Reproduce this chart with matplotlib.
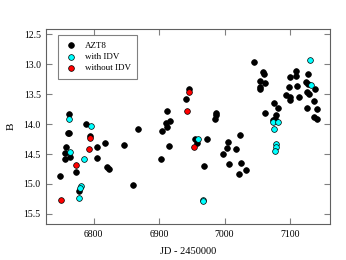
import matplotlib
matplotlib.use("Agg")
import matplotlib.pyplot as plt

# AZT8 (black)
azt8_jd = [6762.4, 6787.8, 6762.4, 6760.3, 6794.5, 6816.8, 6845.8, 6757.3, 6805.6, 6756.3,
           6764.4, 6755.7, 6804.6, 6820.9, 6823.5, 6773.6, 6749.2, 6860.6, 6777.1,
           6945.0, 6941.0, 6911.5, 6987.3, 6986.3, 6984.7, 6916.6, 6910.5, 6912.5, 6904.4,
           6868.2, 6954.2, 6973.1, 6957.9, 6915.6, 7005.6, 7004.1, 6997.6, 6902.3, 6967.9,
           7006.7, 7016.8, 7024.0, 7025.0, 7021.4, 7032.0,
           7045.3, 7059.0, 7059.5, 7054.5, 7061.7, 7054.5, 7053.4, 7108.4, 7100.3, 7108.4,
           7127.3, 7097.7, 7111.0, 7124.3, 7127.3, 7126.3, 7128.4, 7138.0, 7094.2, 7099.2,
           7099.2, 7114.0, 7136.7, 7125.2, 7141.0, 7136.7, 7140.5, 7075.9, 7082.0, 7061.7,
           7078.5, 7077.0, 7073.3]
azt8_b = [13.83, 14.005, 14.145, 14.155, 14.20, 14.32, 14.35, 14.38, 14.38, 14.48,
          14.545, 14.59, 14.57, 14.72, 14.755, 14.795, 14.87, 15.01, 15.12,
          13.42, 13.59, 13.78, 13.81, 13.855, 13.92, 13.945, 13.98, 14.05, 14.12,
          14.09, 14.245, 14.245, 14.31, 14.37, 14.30, 14.395, 14.50, 14.58, 14.695,
          14.67, 14.41, 14.18, 14.655, 14.83, 14.77,
          12.97, 13.13, 13.17, 13.28, 13.31, 13.38, 13.42, 13.12, 13.22, 13.20,
          13.16, 13.38, 13.36, 13.30, 13.33, 13.46, 13.50, 13.41, 13.52, 13.55,
          13.60, 13.555, 13.62, 13.73, 13.75, 13.89, 13.92, 13.645, 13.73, 13.81,
          13.845, 13.92, 13.93]

# with IDV (cyan)
idv_jd = [6761.8, 6796.5, 6764.4, 6784.7, 6780.2, 6779.2, 6777.1, 6959.8, 6966.4, 6966.4,
          7073.3, 7081.5, 7075.4, 7077.9, 7077.9, 7077.3, 7130.4, 7131.3]
idv_b = [13.92, 14.04, 14.46, 14.59, 15.03, 15.06, 15.23, 14.255, 15.27, 15.29,
         13.97, 13.97, 14.09, 14.34, 14.38, 14.445, 12.93, 13.34]

# without IDV (red)
noidv_jd = [6794.5, 6793.4, 6772.5, 6750.2, 6945.0, 6943.0, 6953.3]
noidv_b = [14.24, 14.42, 14.68, 15.27, 13.46, 13.78, 14.38]

x_ticks = [6800, 6900, 7000, 7100]
y_ticks = [12.5, 13.0, 13.5, 14.0, 14.5, 15.0, 15.5]

plt.rcParams['font.family'] = ['Liberation Serif', 'DejaVu Serif']

fig = plt.figure(figsize=(3.46, 2.60), dpi=100)
ax = fig.add_axes([0.134, 0.138, 0.820, 0.749])

ms = 17
ax.scatter(azt8_jd, azt8_b, s=ms, c='black', edgecolors='black', linewidths=0.5,
           label='AZT8', zorder=3)
ax.scatter(idv_jd, idv_b, s=ms, c='#00ffff', edgecolors='black', linewidths=0.5,
           label='with IDV', zorder=4)
ax.scatter(noidv_jd, noidv_b, s=ms, c='#ff0000', edgecolors='black', linewidths=0.5,
           label='without IDV', zorder=5)

ax.set_xlim(6728, 7161)
ax.set_ylim(15.67, 12.42)
ax.set_xticks(x_ticks)
ax.set_yticks(y_ticks)
ax.set_yticklabels([f"{v:.1f}" for v in y_ticks])
ax.tick_params(direction='in', length=4, width=0.8, color='#808080',
               top=True, right=True, labelsize=7, pad=4)
for sp in ax.spines.values():
    sp.set_color('#606060')
    sp.set_linewidth(0.8)

ax.set_xlabel('JD - 2450000', fontsize=7.5, labelpad=6)
ax.set_ylabel('B', fontsize=8, labelpad=6)

leg = ax.legend(loc='upper left', bbox_to_anchor=(0.025, 0.995), fontsize=6.5,
                frameon=True, fancybox=False, edgecolor='#606060',
                handletextpad=0.8, borderpad=0.7, labelspacing=0.35,
                handlelength=1.5, scatterpoints=1)
leg.get_frame().set_linewidth(0.8)

fig.savefig('out.png', dpi=100)
